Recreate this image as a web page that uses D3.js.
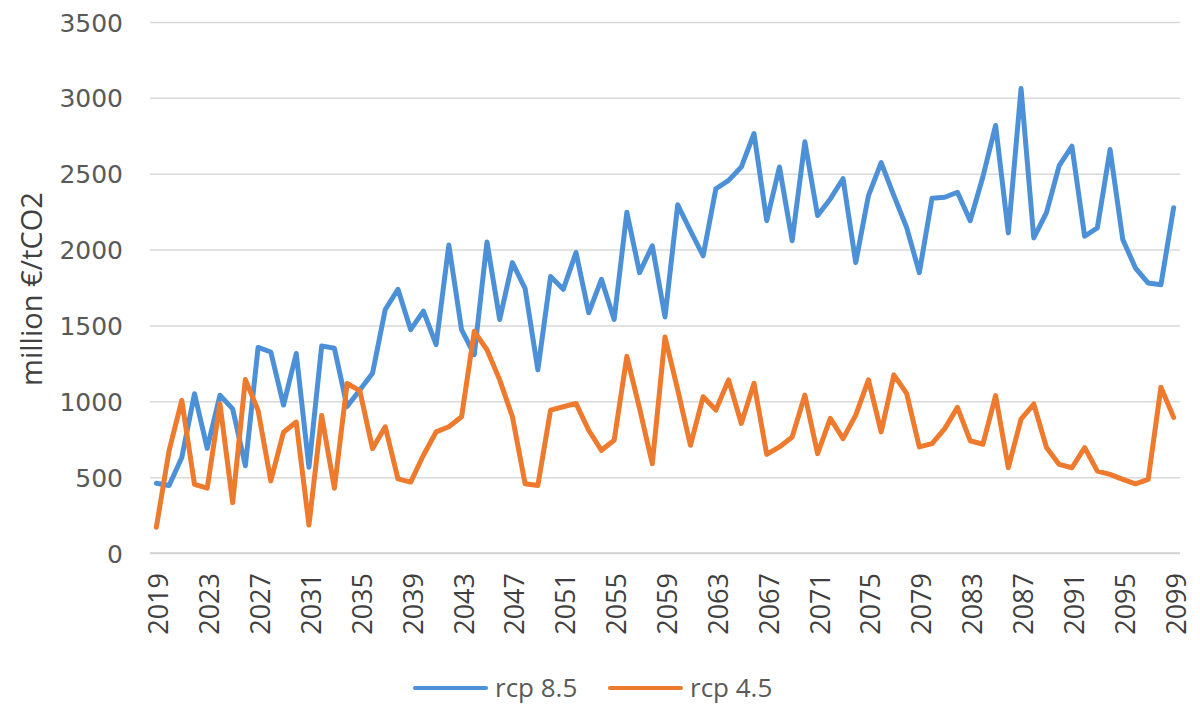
<!DOCTYPE html>
<html>
<head>
<meta charset="utf-8">
<script src="https://cdn.jsdelivr.net/npm/d3@7"></script>
<style>
  body { margin: 0; background: #fff; }
  svg { display: block; }
</style>
</head>
<body>
<svg id="chart" width="1200" height="714"></svg>
<script>
// years on the category axis
var years = d3.range(2019, 2100);

var tickYears = [2019, 2023, 2027, 2031, 2035, 2039, 2043, 2047, 2051, 2055,
                 2059, 2063, 2067, 2071, 2075, 2079, 2083, 2087, 2091, 2095, 2099];

var yTicks = [0, 500, 1000, 1500, 2000, 2500, 3000, 3500];

// one value per year 2019..2099
var rcp85 = [460, 445, 630, 1050, 690, 1040, 950, 575, 1355, 1325,
             975, 1315, 565, 1365, 1350, 965, 1075, 1185, 1605, 1738,
             1472, 1594, 1373, 2030, 1472, 1307, 2050, 1539, 1914, 1742,
             1207, 1822, 1738, 1981, 1583, 1804, 1539, 2246, 1848, 2025,
             1556, 2295, 2124, 1959, 2401, 2456, 2544, 2765, 2190, 2544,
             2058, 2710, 2224, 2334, 2467, 1914, 2356, 2573, 2356, 2146,
             1848, 2339, 2345, 2378, 2190, 2480, 2818, 2110, 3061, 2077,
             2243, 2553, 2681, 2088, 2143, 2659, 2066, 1878, 1779, 1768,
             2276];

var rcp45 = [170, 675, 1006, 453, 427, 984, 332, 1143, 940, 475,
             796, 863, 184, 907, 427, 1117, 1070, 688, 832, 489,
             467, 644, 798, 832, 898, 1461, 1340, 1141, 898, 456,
             445, 942, 964, 986, 809, 677, 743, 1296, 953, 588,
             1424, 1075, 710, 1030, 942, 1141, 854, 1119, 650, 699,
             765, 1041, 655, 887, 754, 909, 1141, 798, 1174, 1052,
             699, 721, 820, 960, 740, 717, 1037, 562, 883, 982,
             695, 584, 562, 695, 540, 518, 485, 456, 485, 1093,
             894];

var seriesNames = ["rcp 8.5", "rcp 4.5"];
var seriesColors = ["#4C91D8", "#EE7A2D"];

var series = [
  {name: seriesNames[0], color: seriesColors[0], values: rcp85},
  {name: seriesNames[1], color: seriesColors[1], values: rcp45}
];

var svg = d3.select("#chart");

var plotLeft = 150, plotRight = 1180, plotTop = 22, plotBottom = 553;

var x = d3.scalePoint()
    .domain(years)
    .range([plotLeft, plotRight])
    .padding(0.5);

var y = d3.scaleLinear()
    .domain([0, 3500])
    .range([plotBottom, plotTop]);

// gridlines + y labels
var yAxis = svg.append("g")
    .attr("transform", "translate(" + plotLeft + ",0)")
    .call(d3.axisLeft(y)
        .tickValues(yTicks)
        .tickFormat(d3.format("d"))
        .tickSize(-(plotRight - plotLeft))
        .tickPadding(27));

yAxis.select(".domain").remove();
yAxis.selectAll(".tick line")
    .attr("stroke", "#d9d9d9")
    .attr("stroke-width", 1.5);
yAxis.selectAll(".tick text")
    .attr("fill", "#595959")
    .attr("dy", "0.36em")
    .attr("font-family", "DejaVu Sans")
    .attr("font-size", 25);

// x axis
var xAxis = svg.append("g")
    .attr("transform", "translate(0," + plotBottom + ")")
    .call(d3.axisBottom(x).tickValues(tickYears).tickSize(0));

xAxis.select(".domain")
    .attr("stroke", "#d0d0d0")
    .attr("stroke-width", 1.5)
    .attr("d", "M" + plotLeft + ",0H" + plotRight);

xAxis.selectAll(".tick text")
    .attr("transform", "rotate(-90)")
    .attr("text-anchor", "end")
    .attr("x", -20)
    .attr("y", 11.5)
    .attr("dy", 0)
    .attr("fill", "#404040")
    .attr("font-family", "Open Sans")
    .attr("font-size", 27);

// y title
svg.append("text")
    .attr("transform", "translate(42,289) rotate(-90)")
    .attr("text-anchor", "middle")
    .attr("fill", "#404040")
    .attr("font-family", "Open Sans")
    .attr("font-size", 29)
    .text("million €/tCO2");

// lines
var line = d3.line()
    .x(function(d, i){ return x(years[i]); })
    .y(function(d){ return y(d); });

svg.selectAll(".series")
    .data(series)
    .enter().append("path")
    .attr("class", "series")
    .attr("fill", "none")
    .attr("stroke", function(d){ return d.color; })
    .attr("stroke-width", 5)
    .attr("stroke-linejoin", "round")
    .attr("stroke-linecap", "round")
    .attr("d", function(d){ return line(d.values); });

// legend
var legend = svg.selectAll(".legend")
    .data(series)
    .enter().append("g")
    .attr("class", "legend")
    .attr("transform", function(d, i){ return "translate(" + (415 + i * 195) + ",688)"; });

legend.append("line")
    .attr("x1", 0)
    .attr("x2", 71)
    .attr("stroke", function(d){ return d.color; })
    .attr("stroke-width", 4)
    .attr("stroke-linecap", "round");

legend.append("text")
    .attr("x", 80)
    .attr("y", 9)
    .attr("fill", "#595959")
    .attr("font-family", "Open Sans")
    .attr("font-size", 26)
    .text(function(d){ return d.name; });
</script>
</body>
</html>
